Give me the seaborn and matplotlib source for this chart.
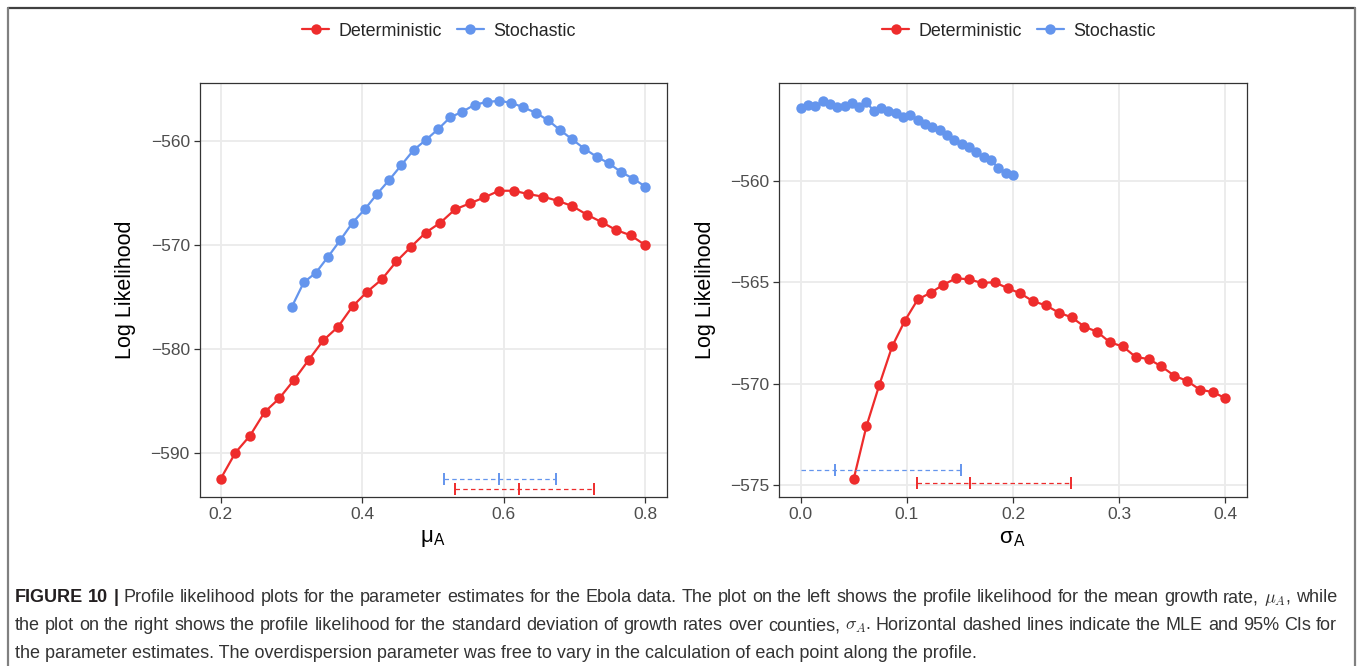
import numpy as np
import pandas as pd
import seaborn as sns
import matplotlib.pyplot as plt
from matplotlib.lines import Line2D

# profile grids (evenly spaced parameter values)
mu_det_x = np.linspace(0.2, 0.8, 30)
mu_sto_x = np.linspace(0.3, 0.8, 30)
sig_det_x = np.linspace(0.05, 0.4, 30)
sig_sto_x = np.linspace(0.0, 0.2, 30)

# log likelihood
mu_det_ll = [-592.47, -589.97, -588.33, -586.06, -584.74, -582.98, -581.06, -579.17, -577.88, -575.90,
             -574.49, -573.30, -571.57, -570.16, -568.80, -567.85, -566.57, -566.00, -565.42, -564.78,
             -564.78, -565.10, -565.35, -565.74, -566.25, -567.08, -567.79, -568.56, -569.07, -570.03]
mu_sto_ll = [-576.00, -573.60, -572.66, -571.12, -569.52, -567.85, -566.57, -565.10, -563.75, -562.31,
             -560.87, -559.90, -558.87, -557.72, -557.18, -556.51, -556.25, -556.13, -556.32, -556.76,
             -557.28, -557.98, -558.94, -559.84, -560.74, -561.51, -562.14, -562.98, -563.62, -564.39]
sig_det_ll = [-574.72, -572.10, -570.07, -568.17, -566.89, -565.85, -565.52, -565.12, -564.80, -564.86,
              -565.03, -565.00, -565.29, -565.55, -565.94, -566.14, -566.50, -566.73, -567.19, -567.45,
              -567.97, -568.17, -568.69, -568.79, -569.15, -569.61, -569.87, -570.30, -570.42, -570.72]
sig_sto_ll = [-556.41, -556.25, -556.32, -556.06, -556.18, -556.35, -556.28, -556.15, -556.35, -556.12,
              -556.55, -556.41, -556.55, -556.65, -556.84, -556.74, -556.97, -557.20, -557.33, -557.50,
              -557.73, -557.99, -558.18, -558.32, -558.58, -558.81, -558.97, -559.36, -559.59, -559.72]

# MLE and 95% CI: (lower, mle, upper, y position)
mu_det_ci = (0.5305, 0.6207, 0.7268, -593.5)
mu_sto_ci = (0.516, 0.5935, 0.674, -592.5)
sig_det_ci = (0.110, 0.1596, 0.2547, -574.91)
sig_sto_ci = (0.0, 0.0326, 0.1515, -574.29)

models = ['Deterministic', 'Stochastic']
colors = {'Deterministic': '#EE2C2C', 'Stochastic': '#6495ED'}

df_mu = pd.concat([
    pd.DataFrame({'x': mu_det_x, 'll': mu_det_ll, 'model': 'Deterministic'}),
    pd.DataFrame({'x': mu_sto_x, 'll': mu_sto_ll, 'model': 'Stochastic'}),
])
df_sig = pd.concat([
    pd.DataFrame({'x': sig_det_x, 'll': sig_det_ll, 'model': 'Deterministic'}),
    pd.DataFrame({'x': sig_sto_x, 'll': sig_sto_ll, 'model': 'Stochastic'}),
])

sns.set_theme(style='whitegrid')
plt.rcParams['font.family'] = ['Liberation Sans', 'DejaVu Sans']
plt.rcParams['mathtext.fontset'] = 'cm'

W, H = 1357, 666
fig = plt.figure(figsize=(W / 100, H / 100), dpi=100)
fig.patch.set_facecolor('white')


def px_rect(x0, y0, x1, y1):
    return [x0 / W, 1 - y1 / H, (x1 - x0) / W, (y1 - y0) / H]


ax1 = fig.add_axes(px_rect(199.5, 82.7, 666.7, 497))
ax2 = fig.add_axes(px_rect(779.3, 82.7, 1246.7, 497))


def draw_ci(ax, ci, color, show_lo=True):
    lo, mle, hi, y = ci
    ax.plot([lo, hi], [y, y], color=color, lw=0.9, dashes=(3.6, 2.6))
    ticks = [lo, mle, hi] if show_lo else [mle, hi]
    ax.plot(ticks, [y] * len(ticks), ls='none', marker='|', ms=9, mew=1.4, color=color)


for ax, df in [(ax1, df_mu), (ax2, df_sig)]:
    sns.lineplot(data=df, x='x', y='ll', hue='model', hue_order=models, palette=colors,
                 marker='o', markersize=7.5, markeredgewidth=0, linewidth=1.6, ax=ax)

draw_ci(ax1, mu_sto_ci, colors['Stochastic'])
draw_ci(ax1, mu_det_ci, colors['Deterministic'])
draw_ci(ax2, sig_sto_ci, colors['Stochastic'], show_lo=False)
draw_ci(ax2, sig_det_ci, colors['Deterministic'])

ax1.set_xlim(0.17, 0.83)
ax1.set_ylim(-594.23, -554.39)
ax1.set_xticks([0.2, 0.4, 0.6, 0.8])
ax1.set_xticklabels(['0.2', '0.4', '0.6', '0.8'])
ax1.set_yticks([-590, -580, -570, -560])

ax2.set_xlim(-0.02, 0.42)
ax2.set_ylim(-575.6, -555.15)
ax2.set_xticks([0.0, 0.1, 0.2, 0.3, 0.4])
ax2.set_xticklabels(['0.0', '0.1', '0.2', '0.3', '0.4'])
ax2.set_yticks([-575, -570, -565, -560])

xlabels = ['μ$_{\\mathregular{A}}$', 'σ$_{\\mathregular{A}}$']
legend_cx = [439, 1019]
for ax, xl, cx in zip([ax1, ax2], xlabels, legend_cx):
    ax.set_xlabel(xl, fontsize=16, color='black')
    ax.set_ylabel('Log Likelihood', fontsize=15.5, color='black')
    ax.xaxis.set_label_coords(0.5, -0.075)
    ax.yaxis.set_label_coords(-0.136, 0.5)
    ax.grid(True, color='#EBEBEB', linewidth=1.3)
    ax.set_axisbelow(True)
    for s in ax.spines.values():
        s.set_color('#333333')
        s.set_linewidth(0.9)
    ax.tick_params(axis='both', which='major', direction='out', length=4, width=0.9,
                   color='#333333', labelcolor='#4D4D4D', labelsize=12.5, pad=3,
                   bottom=True, left=True)
    sns.move_legend(ax, 'center', bbox_to_anchor=(cx / W, 1 - 31 / H), bbox_transform=fig.transFigure,
                    ncol=2, title=None, frameon=False, fontsize=12.9, handlelength=1.5,
                    handletextpad=0.55, columnspacing=0.8)

# outer frame
fig.add_artist(Line2D([8 / W, 1355 / W], [1 - 8 / H, 1 - 8 / H], transform=fig.transFigure,
                      color='#404040', lw=1.6))
for xp in [8, 1355]:
    fig.add_artist(Line2D([xp / W, xp / W], [0, 1 - 8 / H], transform=fig.transFigure,
                          color='#808080', lw=1.6))

# caption: first two lines justified word by word, last line plain
cap_size = 13.0
cap_lines = [
    ([('FIGURE', 'bold'), ('10', 'bold'), ('|', 'bold')] +
     [(w, 'normal') for w in 'Profile likelihood plots for the parameter estimates for the Ebola data. '
      'The plot on the left shows the profile likelihood for the mean growth rate,'.split()] +
     [('$\\mu_A$,', 'normal'), ('while', 'normal')], 596),
    ([(w, 'normal') for w in 'the plot on the right shows the profile likelihood for the standard deviation '
      'of growth rates over counties,'.split()] + [('$\\sigma_A$.', 'normal')] +
     [(w, 'normal') for w in 'Horizontal dashed lines indicate the MLE and 95% CIs for'.split()], 624),
]
renderer = fig.canvas.get_renderer()
x_start, x_end = 15, 1337
for words, yc in cap_lines:
    texts = []
    for w, wt in words:
        t = fig.text(0, 1 - yc / H, w, fontsize=cap_size, fontweight=wt, va='center_baseline',
                     color='#231F20' if wt == 'bold' else '#333333')
        texts.append(t)
    widths = [t.get_window_extent(renderer).width for t in texts]
    gap = (x_end - x_start - sum(widths)) / (len(texts) - 1)
    xp = x_start
    for t, wd in zip(texts, widths):
        t.set_x(xp / W)
        xp += wd + gap

fig.text(x_start / W, 1 - 651 / H,
         'the parameter estimates. The overdispersion parameter was free to vary in the calculation '
         'of each point along the profile.',
         fontsize=cap_size, va='center_baseline', color='#333333')

fig.savefig('out.png', dpi=100, facecolor='white')
